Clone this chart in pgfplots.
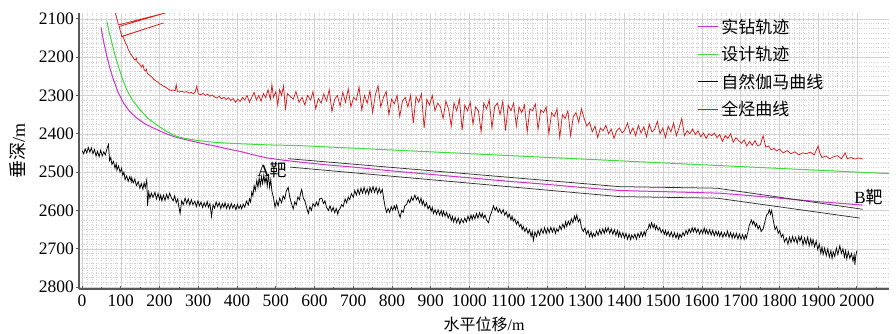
\documentclass[border=0pt]{standalone}
\usepackage{pgfplots}
\pgfplotsset{compat=1.18}
\usepackage{fontspec}
\setmainfont{Liberation Serif}
\newfontfamily\cjk{Noto Sans CJK SC}
\definecolor{cmag}{RGB}{204,51,204}
\definecolor{cgrn}{RGB}{60,220,60}
\definecolor{cred}{RGB}{215,30,30}
\definecolor{caxis}{RGB}{90,90,90}
\begin{document}
\begin{tikzpicture}
\begin{axis}[
  scale only axis, width=810pt, height=276pt,
  xmin=-8, xmax=2083, ymin=2085, ymax=2805, y dir=reverse,
  axis lines=left, axis line style={-, caxis, line width=1.2pt},
  xtick={0,100,...,2000}, ytick={2100,2200,...,2800},
  minor tick num=7,
  grid=both,
  major grid style={gray!35, line width=0.5pt},
  minor grid style={gray!35, dotted, line width=0.4pt},
  minor tick length=0pt,
  x tick style={caxis, line width=0.8pt}, xtick align=inside,
  y tick style={caxis, line width=0.8pt}, ytick align=outside,
  major tick length=3pt,
  extra x ticks={50,150,...,2050}, extra x tick labels={},
  extra x tick style={grid=none, major tick length=2pt},
  /pgf/number format/assume math mode=true,
  /pgf/number format/set thousands separator={},
  tick label style={font=\fontsize{17.5}{19}\selectfont, black},
  yticklabel style={xshift=1.5pt},
  xticklabel style={yshift=-2pt},
  xlabel={{\cjk 水平位移}/m},
  ylabel={{\cjk 垂深}/m},
  xlabel style={at={(axis description cs:0.5,-0.13)}, anchor=center, font=\fontsize{16}{18}\selectfont},
  ylabel style={at={(axis description cs:-0.0753,0.5)}, anchor=center, font=\fontsize{18}{20}\selectfont},
  legend style={at={(axis description cs:0.762,0.99)}, anchor=north west, draw=none, fill=none,
    font=\fontsize{17}{19}\selectfont, row sep=7.5pt, inner sep=1pt,
    nodes={inner xsep=3pt}},
  legend image code/.code={\draw[#1, line width=1pt] (0pt,0pt) -- (20pt,0pt);},
  legend cell align=left,
]
% 实钻轨迹
\addplot[cmag, line width=1pt] coordinates {
(49,2123)(56,2162)(64,2198)(72,2230)(81,2259)(93,2292)(107,2320)(123,2342)(141,2359)(162,2374)(184,2385)(210,2397)(236,2407)(262,2414)(287,2420)(318,2427)(348,2433)(378,2440)(408,2446)(442,2455)(477,2463)(520,2469)(563,2474)(630,2481)(700,2487)(760,2493)(821,2499)(900,2506)(1000,2515)(1100,2524)(1200,2532)(1300,2541)(1388,2548)(1500,2551)(1646,2555)(1720,2561)(1800,2568)(1900,2577)(2015,2586)};
\addlegendentry{\cjk 实钻轨迹}
% 设计轨迹
\addplot[cgrn, line width=1pt] coordinates {
(64,2107)(70,2136)(77,2163)(85,2195)(94,2225)(104,2256)(115,2285)(131,2314)(150,2338)(170,2360)(193,2377)(218,2394)(244,2407)(265,2412)(287,2416)(318,2420)(348,2423)(408,2426)(477,2429)(563,2431)(2083,2504)};
\addlegendentry{\cjk 设计轨迹}
% 自然伽马曲线
\addplot[black, line width=0.75pt] coordinates {
(0,2444)(4,2452)(8,2440)(12,2450)(16,2436)(20,2448)(24,2437)(28,2452)(32,2441)(36,2458)(40,2446)(44,2460)(48,2443)(52,2458)(56,2447)(60,2455)(64,2440)(68,2428)(71,2470)(74,2462)(77,2480)(81,2472)(85,2490)(88,2478)(90,2495)(94,2484)(98,2500)(102,2490)(105,2508)(108,2500)(111,2520)(115,2510)(119,2524)(123,2512)(127,2525)(128,2515)(132,2528)(136,2518)(140,2535)(145,2525)(149,2542)(153,2530)(157,2545)(160,2528)(163,2540)(167,2520)(169,2588)(172,2552)(175,2568)(179,2555)(183,2566)(188,2553)(192,2570)(196,2556)(200,2572)(203,2560)(206,2575)(210,2560)(214,2574)(218,2558)(222,2570)(226,2555)(231,2568)(235,2575)(239,2562)(243,2580)(247,2570)(249,2586)(253,2608)(257,2575)(261,2585)(266,2568)(270,2582)(274,2570)(278,2586)(282,2572)(286,2585)(291,2576)(295,2590)(299,2575)(303,2588)(307,2578)(311,2592)(315,2580)(319,2590)(323,2577)(326,2592)(330,2582)(334,2616)(338,2585)(342,2594)(346,2578)(350,2590)(354,2580)(358,2595)(362,2582)(366,2592)(369,2580)(373,2595)(377,2583)(381,2596)(385,2582)(389,2594)(393,2585)(397,2598)(401,2584)(405,2595)(409,2586)(412,2596)(416,2584)(420,2592)(424,2576)(429,2586)(432,2570)(435,2578)(438,2552)(441,2562)(444,2535)(447,2548)(451,2522)(454,2540)(457,2515)(460,2535)(463,2512)(466,2530)(469,2508)(472,2528)(475,2512)(478,2536)(481,2505)(484,2540)(487,2520)(490,2550)(494,2566)(498,2592)(502,2575)(506,2588)(510,2568)(515,2580)(519,2562)(523,2570)(527,2550)(532,2540)(536,2565)(540,2580)(545,2596)(549,2578)(553,2585)(557,2565)(561,2572)(564,2555)(567,2545)(571,2568)(575,2575)(579,2590)(584,2608)(588,2590)(592,2600)(596,2582)(601,2590)(605,2578)(609,2588)(613,2570)(619,2568)(623,2582)(627,2575)(631,2592)(636,2600)(640,2588)(644,2602)(648,2592)(652,2606)(656,2595)(660,2610)(662,2600)(666,2595)(670,2585)(674,2590)(679,2570)(683,2580)(687,2565)(691,2572)(695,2556)(700,2566)(704,2548)(708,2560)(712,2545)(716,2558)(720,2542)(724,2555)(728,2540)(732,2556)(736,2544)(740,2558)(743,2540)(747,2552)(751,2538)(755,2553)(759,2540)(763,2556)(767,2542)(771,2555)(775,2545)(778,2566)(782,2590)(786,2605)(790,2595)(794,2605)(798,2590)(802,2600)(806,2588)(809,2598)(812,2586)(816,2602)(821,2618)(825,2600)(829,2605)(833,2588)(838,2584)(842,2572)(846,2580)(850,2565)(854,2574)(859,2560)(863,2572)(867,2565)(871,2580)(875,2568)(878,2585)(881,2575)(885,2590)(889,2580)(893,2596)(897,2588)(901,2602)(904,2592)(907,2608)(911,2598)(915,2610)(919,2598)(923,2612)(927,2600)(930,2614)(933,2602)(937,2615)(941,2605)(945,2620)(949,2610)(953,2626)(956,2616)(959,2630)(963,2618)(967,2632)(971,2620)(975,2635)(979,2622)(984,2632)(988,2620)(992,2630)(996,2615)(1000,2626)(1004,2612)(1007,2624)(1010,2612)(1014,2622)(1018,2608)(1022,2620)(1026,2606)(1030,2618)(1033,2608)(1036,2620)(1040,2612)(1044,2625)(1049,2632)(1053,2615)(1057,2605)(1062,2588)(1066,2600)(1070,2592)(1074,2605)(1078,2596)(1082,2608)(1087,2598)(1091,2612)(1095,2604)(1099,2618)(1103,2610)(1107,2625)(1110,2615)(1113,2628)(1117,2622)(1121,2636)(1125,2628)(1129,2642)(1133,2636)(1136,2650)(1139,2642)(1143,2655)(1147,2646)(1151,2660)(1155,2650)(1159,2668)(1162,2655)(1165,2678)(1169,2656)(1173,2668)(1177,2652)(1181,2664)(1185,2648)(1190,2660)(1194,2645)(1198,2660)(1202,2646)(1206,2658)(1210,2644)(1214,2657)(1218,2645)(1222,2660)(1225,2648)(1229,2655)(1233,2640)(1237,2650)(1241,2636)(1245,2646)(1248,2630)(1251,2642)(1255,2628)(1259,2638)(1263,2622)(1267,2632)(1271,2615)(1274,2625)(1277,2612)(1281,2630)(1285,2622)(1289,2645)(1294,2655)(1298,2646)(1302,2662)(1306,2652)(1310,2668)(1314,2656)(1317,2670)(1320,2660)(1324,2668)(1328,2654)(1332,2665)(1336,2650)(1340,2662)(1344,2648)(1348,2660)(1351,2646)(1354,2656)(1358,2645)(1362,2660)(1366,2648)(1370,2662)(1374,2650)(1378,2665)(1382,2652)(1385,2668)(1388,2656)(1392,2670)(1396,2658)(1400,2672)(1404,2660)(1408,2675)(1412,2662)(1416,2676)(1419,2664)(1423,2672)(1427,2662)(1431,2675)(1435,2660)(1439,2670)(1443,2656)(1447,2668)(1451,2655)(1454,2665)(1457,2652)(1461,2648)(1464,2636)(1467,2645)(1470,2632)(1474,2645)(1477,2636)(1480,2650)(1483,2640)(1487,2652)(1491,2645)(1495,2658)(1499,2650)(1503,2662)(1506,2652)(1509,2665)(1513,2655)(1517,2668)(1521,2656)(1525,2670)(1529,2658)(1533,2672)(1537,2660)(1540,2674)(1543,2662)(1547,2670)(1551,2658)(1555,2666)(1559,2652)(1563,2662)(1567,2648)(1571,2658)(1575,2645)(1578,2656)(1582,2645)(1586,2658)(1590,2648)(1594,2662)(1598,2650)(1602,2660)(1606,2646)(1609,2660)(1612,2650)(1616,2662)(1620,2650)(1624,2664)(1628,2652)(1632,2666)(1636,2654)(1640,2665)(1643,2655)(1646,2668)(1650,2656)(1654,2670)(1658,2658)(1662,2668)(1666,2654)(1670,2670)(1674,2658)(1678,2672)(1681,2660)(1685,2672)(1689,2660)(1693,2674)(1697,2662)(1701,2675)(1705,2663)(1709,2676)(1712,2664)(1715,2672)(1719,2655)(1722,2640)(1725,2632)(1728,2625)(1731,2636)(1734,2628)(1738,2642)(1741,2634)(1745,2648)(1749,2640)(1753,2655)(1758,2648)(1762,2632)(1767,2612)(1771,2608)(1774,2598)(1777,2610)(1780,2600)(1784,2625)(1787,2640)(1789,2650)(1793,2642)(1797,2660)(1801,2652)(1805,2670)(1809,2662)(1813,2682)(1818,2672)(1822,2688)(1826,2670)(1830,2684)(1834,2668)(1838,2682)(1842,2670)(1846,2686)(1850,2668)(1853,2680)(1857,2668)(1861,2690)(1865,2672)(1869,2688)(1873,2670)(1877,2692)(1881,2674)(1884,2690)(1887,2676)(1891,2695)(1895,2680)(1899,2702)(1903,2688)(1907,2712)(1910,2695)(1913,2715)(1917,2698)(1921,2718)(1925,2700)(1929,2722)(1933,2705)(1936,2725)(1939,2708)(1943,2720)(1947,2698)(1951,2715)(1956,2692)(1960,2712)(1964,2700)(1968,2722)(1971,2705)(1974,2726)(1978,2708)(1982,2725)(1986,2712)(1990,2732)(1993,2715)(1995,2742)(1997,2720)(2000,2705)};
\addlegendentry{\cjk 自然伽马曲线}
% 全烃曲线
\addplot[cred, line width=0.75pt] coordinates {
(85,2083)(90,2100)(94,2116)(218,2084)(96,2120)(98,2130)(101,2140)(102,2146)(210,2111)(104,2146)(107,2150)(110,2158)(113,2165)(116,2170)(119,2180)(122,2185)(125,2192)(128,2195)(131,2200)(134,2205)(137,2208)(140,2203)(142,2212)(145,2215)(148,2218)(151,2222)(154,2226)(157,2220)(160,2232)(163,2236)(166,2232)(168,2242)(171,2245)(175,2248)(180,2252)(185,2258)(190,2262)(195,2265)(200,2270)(205,2272)(210,2276)(215,2278)(220,2282)(225,2285)(230,2287)(236,2286)(240,2288)(243,2272)(246,2290)(252,2291)(258,2289)(264,2292)(270,2290)(276,2294)(282,2292)(288,2296)(292,2290)(296,2276)(300,2296)(306,2298)(312,2295)(318,2300)(324,2297)(330,2302)(336,2299)(342,2304)(348,2307)(354,2302)(360,2309)(366,2305)(372,2311)(378,2306)(384,2313)(390,2308)(396,2318)(402,2310)(408,2316)(414,2305)(420,2312)(426,2300)(432,2318)(438,2305)(444,2292)(450,2312)(456,2300)(462,2315)(468,2295)(474,2306)(480,2285)(486,2310)(490,2272)(494,2305)(500,2290)(505,2325)(510,2285)(515,2300)(520,2275)(525,2338)(530,2295)
(535,2300)(545,2310)(552,2290)(560,2318)(568,2305)(575,2325)(582,2300)(590,2312)(596,2290)(603,2335)(610,2308)(617,2320)(624,2296)(631,2315)(638,2285)(645,2342)(652,2310)(659,2300)(666,2328)(673,2292)(680,2318)(687,2283)(694,2330)(701,2305)(708,2312)(715,2278)(722,2338)(729,2300)(736,2320)(743,2288)(750,2345)(757,2298)(764,2275)(771,2330)(778,2305)(785,2290)(792,2350)(799,2310)(806,2322)(813,2300)(820,2355)(827,2315)(834,2305)(841,2330)(848,2300)(855,2372)(862,2303)(869,2318)(876,2296)(883,2385)(890,2310)(897,2325)(904,2300)(911,2340)(918,2320)(925,2330)(932,2360)(939,2315)(946,2335)(953,2380)(960,2320)(967,2340)(974,2310)(981,2390)(988,2325)(995,2340)(1002,2318)(1009,2375)(1016,2330)(1023,2340)(1030,2395)(1037,2320)(1044,2335)(1051,2312)(1058,2385)(1065,2330)(1072,2320)(1079,2350)(1086,2315)(1093,2392)(1100,2325)(1107,2340)(1114,2320)(1121,2380)(1128,2330)(1135,2345)(1142,2325)(1149,2395)(1156,2335)(1163,2340)(1170,2322)(1177,2388)(1184,2338)(1191,2345)(1198,2330)(1205,2400)(1212,2345)(1219,2355)(1226,2335)(1233,2410)(1240,2350)(1247,2360)(1254,2340)(1261,2405)(1268,2355)(1275,2345)(1282,2370)(1289,2335)(1296,2360)(1303,2380)(1310,2370)(1317,2395)(1324,2380)(1331,2410)(1338,2385)(1345,2392)(1352,2378)(1359,2400)(1366,2388)(1373,2412)(1380,2392)(1387,2385)(1394,2398)(1401,2390)(1408,2372)(1415,2400)(1422,2385)(1429,2405)(1436,2378)(1443,2398)(1450,2382)(1457,2408)(1464,2375)(1471,2395)(1478,2388)(1485,2368)(1492,2400)(1499,2385)(1506,2410)(1513,2380)(1520,2395)(1527,2372)(1534,2405)(1541,2385)(1548,2360)(1555,2405)(1562,2392)(1569,2400)(1576,2388)(1583,2402)(1590,2392)(1597,2408)(1604,2398)(1611,2412)(1618,2400)(1625,2405)(1632,2398)(1639,2410)(1646,2402)(1653,2420)(1660,2405)(1667,2412)(1674,2400)(1681,2422)(1688,2410)(1695,2418)(1702,2425)(1709,2416)(1716,2432)(1723,2420)(1730,2430)(1737,2418)(1744,2432)(1751,2428)(1758,2405)(1765,2435)(1772,2432)(1779,2442)(1786,2438)(1793,2445)(1800,2440)(1810,2450)(1820,2444)(1830,2452)(1840,2447)(1850,2455)(1860,2450)(1870,2452)(1880,2448)(1890,2455)(1900,2432)(1905,2452)(1910,2462)(1920,2458)(1930,2465)(1940,2460)(1950,2457)(1960,2465)(1970,2450)(1975,2465)(1985,2462)(1995,2466)(2005,2463)(2015,2466)};
\addlegendentry{\cjk 全烃曲线}
% 靶区边界
\addplot[black!80, line width=0.75pt, forget plot] coordinates {(532,2465)(1388,2538)(1639,2542)(2015,2597)};
\addplot[black!80, line width=0.75pt, forget plot] coordinates {(537,2487)(1388,2564)(1639,2568)(2008,2620)};
\node[font=\fontsize{17}{19}\selectfont] at (axis cs:490,2494) {A{\cjk 靶}};
\node[font=\fontsize{17}{19}\selectfont] at (axis cs:2030,2564) {B{\cjk 靶}};
\end{axis}
\pgfresetboundingbox
\path (current axis.south west) ++(-79pt,-44pt) rectangle ++(896pt,333pt);
\end{tikzpicture}
\end{document}
